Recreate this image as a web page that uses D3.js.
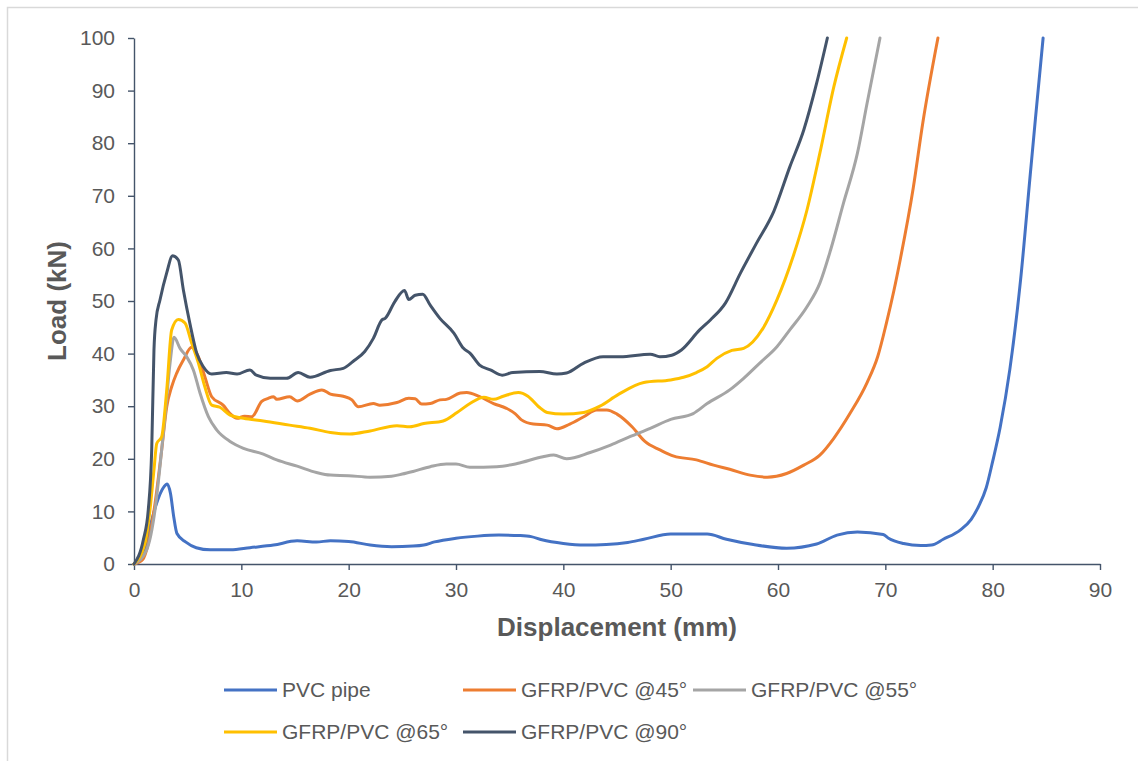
<!DOCTYPE html>
<html>
<head>
<meta charset="utf-8">
<script src="https://cdn.jsdelivr.net/npm/d3@7"></script>
<style>
  html, body { margin: 0; padding: 0; background: #ffffff; }
  svg { display: block; font-family: "Liberation Sans", Arial, sans-serif; }
</style>
</head>
<body>
<svg id="chart" width="1138" height="761"></svg>
<script>
// Load–displacement curves for PVC pipe and GFRP/PVC tubes at different winding angles
const seriesNames = ["PVC pipe", "GFRP/PVC @45°", "GFRP/PVC @55°", "GFRP/PVC @65°", "GFRP/PVC @90°"];
const seriesColors = ["#4472C4", "#ED7D31", "#A5A5A5", "#FFC000", "#44546A"];

const xTicks = [0, 10, 20, 30, 40, 50, 60, 70, 80, 90];
const yTicks = [0, 10, 20, 30, 40, 50, 60, 70, 80, 90, 100];

// PVC pipe
const pvcDisp = [0, 0.5, 1.0, 1.5, 2.1, 2.7, 3.1, 3.4, 3.7, 4.0, 4.8, 5.8, 7.1, 9.0, 10.8, 13.0, 15.2, 17.0, 18.3, 20.0, 22.0, 24.0, 26.0, 27.0, 28.0, 30.0, 32.0, 34.0, 36.0, 37.0, 38.0, 40.0, 42.0, 44.0, 46.0, 47.5, 50.0, 53.4, 55.2, 57.7, 60.8, 63.6, 65.5, 67.4, 69.8, 70.3, 71.7, 73.3, 74.3, 75.4, 77.0, 78.0, 78.7, 79.4, 80.0, 80.7, 81.6, 82.6, 83.5, 84.0, 84.7];
const pvcLoad = [0, 0.5, 2.5, 7.1, 11.5, 14.4, 15.2, 13.4, 9.0, 5.8, 4.2, 3.1, 2.7, 2.7, 3.1, 3.6, 4.4, 4.2, 4.4, 4.3, 3.6, 3.3, 3.4, 3.6, 4.2, 4.9, 5.3, 5.5, 5.4, 5.2, 4.6, 3.9, 3.6, 3.7, 4.1, 4.7, 5.7, 5.7, 4.7, 3.7, 3.0, 3.8, 5.5, 6.1, 5.6, 4.9, 3.9, 3.5, 3.6, 4.7, 6.5, 8.5, 11, 14.5, 19.5, 26, 37, 54, 74, 85, 100];

// GFRP/PVC @45°
const g45Disp = [0, 0.8, 1.33, 1.96, 2.58, 3.05, 3.51, 3.98, 4.6, 5.37, 6.0, 6.6, 7.24, 8.3, 8.95, 9.6, 10.3, 10.97, 11.9, 12.5, 13.0, 13.3, 14.5, 15.2, 16.4, 17.5, 18.3, 19.5, 20.3, 20.9, 22.3, 22.9, 24.5, 25.6, 26.2, 26.8, 27.6, 28.5, 29.1, 30.4, 31.0, 32.2, 33.5, 34.7, 35.5, 36.1, 37.2, 38.5, 39.4, 40.6, 41.9, 43.1, 44.05, 45.0, 46.4, 47.6, 49.0, 50.3, 52.4, 54.0, 55.5, 57.4, 59.0, 60.8, 62.4, 63.9, 65.2, 66.7, 68.3, 69.3, 70.1, 70.8, 71.4, 72.6, 73.5, 74.9];
const g45Load = [0, 0.8, 3.9, 11.5, 21.7, 29.9, 33.7, 36.3, 38.8, 41.2, 39.4, 35.6, 31.8, 30.2, 28.6, 27.7, 28.1, 28.0, 30.9, 31.5, 31.8, 31.3, 31.8, 31.0, 32.3, 33.1, 32.3, 31.9, 31.2, 29.9, 30.5, 30.2, 30.7, 31.5, 31.4, 30.4, 30.5, 31.2, 31.3, 32.5, 32.6, 31.8, 30.5, 29.6, 28.6, 27.4, 26.6, 26.4, 25.7, 26.6, 28.0, 29.3, 29.3, 28.5, 26.1, 23.3, 21.7, 20.5, 19.8, 18.8, 18.0, 16.9, 16.5, 17.2, 18.8, 20.7, 23.9, 28.6, 34.5, 39.5, 45.8, 52, 58, 71.5, 84, 100];

// GFRP/PVC @55°
const g55Disp = [0, 1.18, 1.96, 2.42, 2.89, 3.36, 3.73, 4.29, 4.91, 5.53, 6.15, 6.93, 7.7, 8.95, 10.2, 12.05, 13.3, 15.2, 17.0, 18.3, 20.0, 22.0, 24.0, 25.0, 26.0, 27.6, 29.1, 30.0, 31.3, 33.8, 35.7, 38.1, 39.1, 40.3, 42.5, 44.4, 46.2, 48.1, 50.0, 52.1, 53.4, 55.5, 56.8, 58.3, 59.9, 61.1, 62.7, 63.9, 64.9, 66.1, 67.4, 68.3, 69.5];
const g55Load = [0, 2.7, 10.3, 18.5, 28.0, 38.2, 43.1, 41.0, 39.4, 36.9, 32.5, 28.0, 25.5, 23.3, 22.0, 20.9, 19.8, 18.6, 17.4, 16.9, 16.8, 16.5, 16.7, 17.1, 17.6, 18.5, 19.0, 19.0, 18.4, 18.5, 19.1, 20.4, 20.7, 20.0, 21.2, 22.6, 24.2, 25.8, 27.5, 28.6, 30.5, 33.1, 35.3, 38.2, 41.3, 44.5, 48.9, 53.4, 59.7, 68.6, 78.1, 87.6, 100];

// GFRP/PVC @65°
const g65Disp = [0, 1.02, 1.49, 1.86, 2.12, 2.58, 3.05, 3.51, 4.13, 4.75, 5.37, 6.0, 6.6, 7.24, 8.0, 8.95, 10.2, 12.05, 14.5, 16.4, 18.3, 20.1, 22.0, 24.5, 25.7, 27.0, 28.8, 30.1, 31.3, 32.6, 33.5, 34.4, 35.8, 36.7, 37.7, 38.5, 40.0, 41.9, 43.4, 45.1, 47.5, 50.0, 51.2, 52.4, 53.4, 54.3, 55.7, 56.8, 58.6, 59.9, 61.4, 62.7, 63.9, 65.2, 66.4];
const g65Load = [0, 3.9, 10.3, 17.9, 22.9, 24.2, 33.1, 44.5, 46.5, 45.8, 42.0, 38.2, 33.7, 30.2, 29.8, 28.3, 27.7, 27.2, 26.4, 25.8, 25.0, 24.7, 25.3, 26.3, 26.1, 26.7, 27.2, 28.8, 30.5, 31.7, 31.3, 31.9, 32.6, 31.9, 29.9, 28.8, 28.5, 28.8, 30.0, 32.2, 34.5, 35.0, 35.5, 36.4, 37.5, 39.1, 40.6, 41.0, 44.8, 50.2, 58.4, 67.3, 78.1, 90.7, 100];

// GFRP/PVC @90°
const g90Disp = [0, 0.87, 1.33, 1.65, 1.86, 2.05, 2.42, 3.04, 3.6, 4.13, 4.6, 5.2, 5.84, 6.46, 7.24, 8.6, 9.6, 10.8, 11.4, 12.7, 14.2, 15.3, 16.4, 18.3, 19.5, 20.4, 21.5, 22.3, 23.1, 23.4, 24.3, 25.2, 25.6, 26.2, 26.9, 27.6, 28.5, 29.8, 30.7, 31.3, 32.2, 33.2, 34.3, 35.3, 37.8, 39.4, 40.3, 41.9, 43.7, 45.3, 48.1, 49.0, 50.1, 51.0, 52.7, 53.7, 55.1, 56.5, 58.0, 59.6, 61.1, 62.4, 63.6, 64.6];
const g90Load = [0, 4.6, 10.3, 21.7, 40.7, 46.4, 50.2, 55.3, 58.6, 57.8, 52.1, 45.8, 40.1, 37.5, 36.1, 36.4, 36.1, 36.9, 35.9, 35.3, 35.3, 36.4, 35.5, 36.8, 37.2, 38.5, 40.4, 42.9, 46.4, 46.7, 49.9, 52.0, 50.3, 51.1, 51.3, 49.2, 46.7, 43.9, 41.0, 40.1, 37.8, 36.9, 35.9, 36.4, 36.6, 36.1, 36.3, 38.2, 39.4, 39.4, 39.9, 39.4, 39.7, 40.7, 44.5, 46.4, 49.6, 55.3, 61.0, 67.0, 75.5, 82.5, 91.4, 100];

const seriesDisp = [pvcDisp, g45Disp, g55Disp, g65Disp, g90Disp];
const seriesLoad = [pvcLoad, g45Load, g55Load, g65Load, g90Load];

const series = seriesNames.map((name, i) => ({
  name,
  color: seriesColors[i],
  points: seriesDisp[i].map((d, j) => [d, seriesLoad[i][j]])
}));

const svg = d3.select("#chart");
const axisColor = "#44546A";
const textColor = "#595959";

// outer chart frame
svg.append("rect")
  .attr("x", 7.5).attr("y", 7.5)
  .attr("width", 1150).attr("height", 770)
  .attr("fill", "none").attr("stroke", "#D9D9D9").attr("stroke-width", 1.5);

const x = d3.scaleLinear().domain([0, 90]).range([134, 1100]);
const y = d3.scaleLinear().domain([0, 100]).range([564, 38]);

// axes
const xAxis = svg.append("g")
  .attr("transform", `translate(0,${y(0)})`)
  .call(d3.axisBottom(x).tickValues(xTicks).tickSize(6).tickSizeOuter(0).tickPadding(12));
const yAxis = svg.append("g")
  .attr("transform", `translate(${x(0)},0)`)
  .call(d3.axisLeft(y).tickValues(yTicks).tickSize(6).tickSizeOuter(0).tickPadding(13));

[xAxis, yAxis].forEach(g => {
  g.select(".domain").attr("stroke", axisColor).attr("stroke-width", 1.4);
  g.selectAll(".tick line").attr("stroke", axisColor).attr("stroke-width", 1.4);
  g.selectAll(".tick text")
    .attr("fill", textColor)
    .style("font-size", "21px")
    .style("font-family", "'Liberation Sans', Arial, sans-serif");
});

// curves
const line = d3.line()
  .x(p => x(p[0]))
  .y(p => y(p[1]))
  .curve(d3.curveMonotoneX);

svg.append("g").selectAll("path")
  .data(series)
  .join("path")
  .attr("d", s => line(s.points))
  .attr("fill", "none")
  .attr("stroke", s => s.color)
  .attr("stroke-width", 3)
  .attr("stroke-linejoin", "round")
  .attr("stroke-linecap", "round");

// axis titles
svg.append("text")
  .attr("x", (x(0) + x(90)) / 2)
  .attr("y", 636)
  .attr("text-anchor", "middle")
  .attr("fill", textColor)
  .style("font-size", "26px")
  .style("font-weight", "bold")
  .text("Displacement (mm)");

svg.append("text")
  .attr("transform", `translate(66,${(y(0) + y(100)) / 2}) rotate(-90)`)
  .attr("text-anchor", "middle")
  .attr("fill", textColor)
  .style("font-size", "26px")
  .style("font-weight", "bold")
  .text("Load (kN)");

// legend
const legendPos = [[224, 690], [463, 690], [693, 690], [224, 732], [463, 732]];
const legend = svg.append("g").selectAll("g")
  .data(series)
  .join("g")
  .attr("transform", (s, i) => `translate(${legendPos[i][0]},${legendPos[i][1]})`);

legend.append("line")
  .attr("x1", 0).attr("x2", 53)
  .attr("y1", 0).attr("y2", 0)
  .attr("stroke", s => s.color)
  .attr("stroke-width", 3);

legend.append("text")
  .attr("x", 58)
  .attr("y", 0)
  .attr("dy", "0.35em")
  .attr("fill", textColor)
  .style("font-size", "21px")
  .text(s => s.name);
</script>
</body>
</html>
